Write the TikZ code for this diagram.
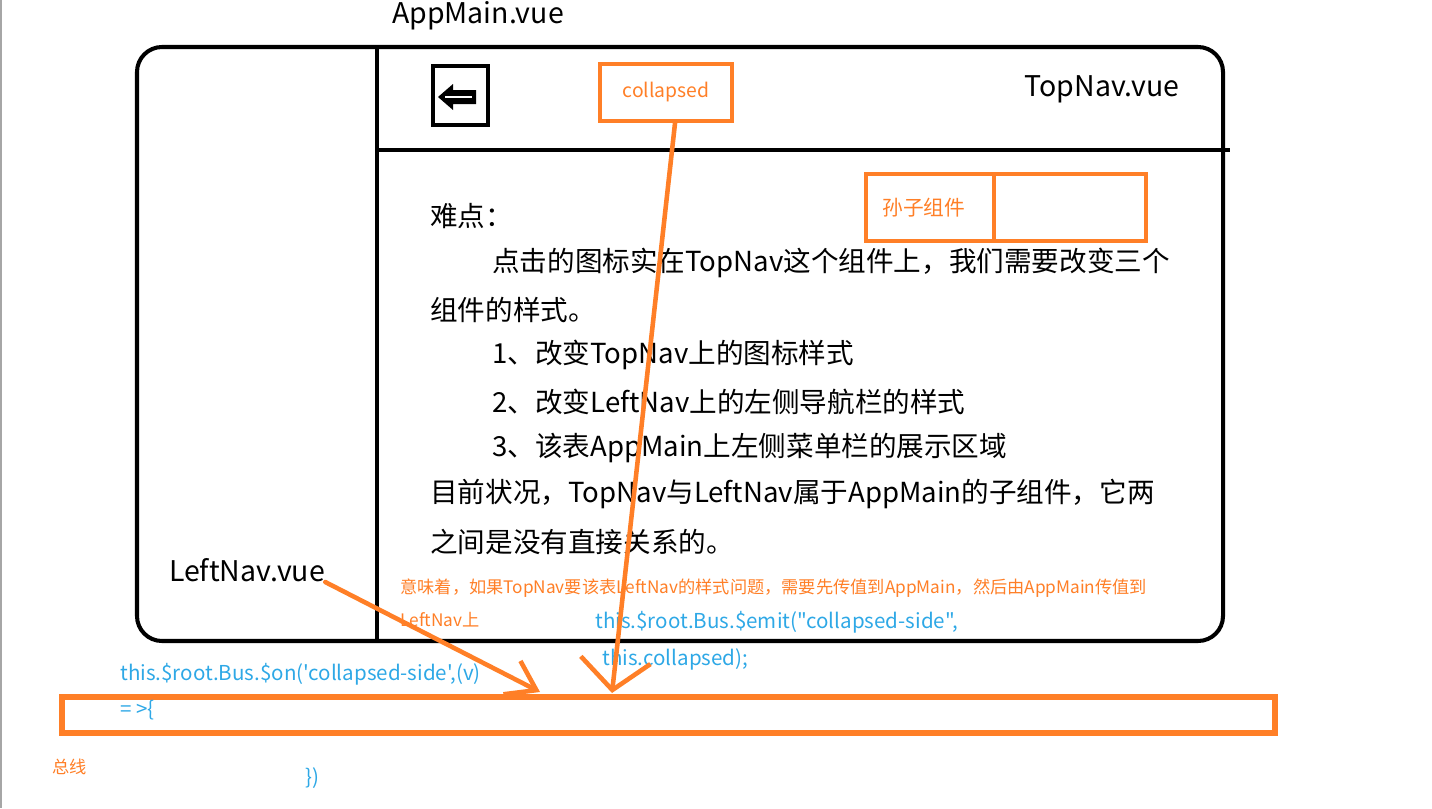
\documentclass[tikz,border=0pt]{standalone}
\usepackage{fontspec}
\setmainfont{Noto Sans CJK SC}
\newfontfamily\codefont[Ligatures=TeXOff]{Noto Sans CJK SC}
\usetikzlibrary{arrows.meta,positioning,calc}
\definecolor{paintorange}{HTML}{FF7F27}
\definecolor{paintblue}{HTML}{2EA8E6}
\tikzset{
  % Hand-drawn frame of the page layout
  frameline/.style={draw=black, line width=2.3pt},
  % Orange marker boxes
  obox/.style={draw=paintorange, line width=2.6pt, rectangle, inner sep=0pt},
  % Texts
  filelbl/.style={font=\fontsize{16.2}{19}\selectfont, inner sep=0pt},
  bodytxt/.style={font=\fontsize{15.7}{18}\selectfont, anchor=west, inner sep=0pt},
  notetxt/.style={font=\fontsize{9.8}{12}\selectfont, text=paintorange, anchor=west, inner sep=0pt},
  codetxt/.style={font=\codefont\fontsize{11.7}{14}\selectfont, text=paintblue, anchor=west, inner sep=0pt},
  % Orange arrows into the bus
  busarr/.style={draw=paintorange, line width=2.6pt, line cap=round,
                 -{Straight Barb[length=6mm,width=14mm]}}
}

\begin{document}
\begin{tikzpicture}[x=0.02cm, y=-0.02cm]
\useasboundingbox (0,0) rectangle (1432,808);
\draw[black!35, line width=0.8pt] (1,0) -- (1,808);

% ============== AppMain frame ==============
\node[filelbl] (appmain) at (478,16) {AppMain.vue};
\draw[frameline, rounded corners=0.5cm] (137,47) rectangle (1223,641);
\draw[frameline] (377,47) -- (377,641);
\draw[frameline] (377,150) -- (1230,150);

% ============== TopNav ==============
\node[draw, line width=2.3pt, minimum width=1.1cm, minimum height=1.18cm, inner sep=0pt] (iconbox) at (460.5,95.5) {};
\fill[black] (438,97) -- (453,84) -- (453,90) -- (476,90) -- (476,104) -- (453,104) -- (453,110) -- cycle;
\draw[white, line width=0.8pt] (445,97) -- (472,97);
\node[obox, minimum width=2.64cm, minimum height=1.14cm, text=paintorange,
      font=\fontsize{11}{13}\selectfont] (collapsed) at (666,92.5) {\raisebox{-4pt}{collapsed}};
\node[filelbl] (topnav) at (1102,89) {TopNav.vue};

% grandchild component
\node[obox, minimum width=2.56cm, minimum height=1.34cm, text=paintorange,
      font=\fontsize{11.8}{14}\selectfont] (gcleft) at (930,207.5) {\hspace*{-0.25cm}孙子组件};
\node[obox, minimum width=3.04cm, minimum height=1.34cm] (gcright) at (1070,207.5) {};

% ============== Explanation ==============
\node[bodytxt] (l1) at (430,216) {难点：};
\node[bodytxt] (l2) at (492,263) {点击的图标实在TopNav这个组件上，我们需要改变三个};
\node[bodytxt] (l3) at (430,310) {组件的样式。};
\node[bodytxt] (l4) at (492,355) {1、改变TopNav上的图标样式};
\node[bodytxt] (l5) at (492,402) {2、改变LeftNav上的左侧导航栏的样式};
\node[bodytxt] (l6) at (492,448) {3、该表AppMain上左侧菜单栏的展示区域};
\node[bodytxt] (l7) at (430,494) {目前状况，TopNav与LeftNav属于AppMain的子组件，它两};
\node[bodytxt] (l8) at (430,542) {之间是没有直接关系的。};

% ============== LeftNav ==============
\node[filelbl] (leftnav) at (247,570) {LeftNav.vue};
\node[notetxt] (note1) at (400,588) {意味着，如果TopNav要该表LeftNav的样式问题，需要先传值到AppMain，然后由AppMain传值到};
\node[notetxt] (note2) at (400,620) {LeftNav上};

% ============== Bus ==============
\node[codetxt] (emit1) at (595,622) {this.\$root.Bus.\$emit("collapsed-side",};
\node[codetxt] (emit2) at (602,659) {this.collapsed);};
\node[codetxt] (on1) at (120,674) {this.\$root.Bus.\$on('collapsed-side',(v)};
\node[obox, line width=3pt, minimum width=24.26cm, minimum height=0.72cm] (bus) at (668.5,715) {};
\node[codetxt] (on2) at (120,710) {= >\{};
\node[codetxt] (on3) at (305,778) {\})};
\node[notetxt] (buslbl) at (52,767) {总线};

\coordinate (busin1) at (540,692);
\coordinate (busin2) at (612,693);
\draw[busarr, -{Straight Barb[length=5.5mm,width=7.5mm]}] (leftnav.south east) -- (busin1);
\draw[busarr] ($(collapsed.south)+(9,0)$) -- (busin2);

\end{tikzpicture}
\end{document}
